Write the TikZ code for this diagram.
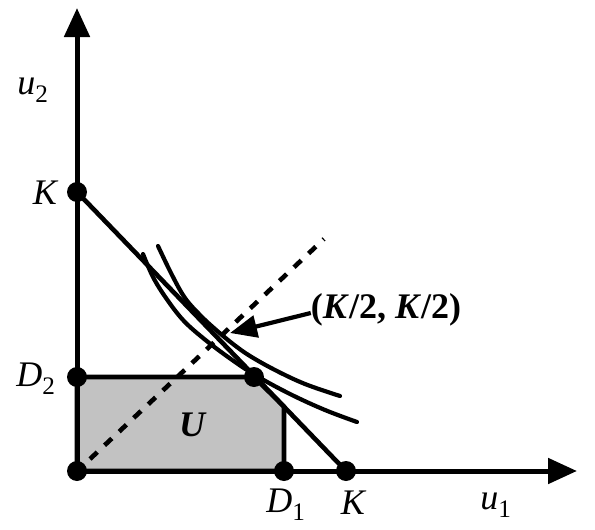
\documentclass[tikz,border=0pt]{standalone}
\usepackage{fontspec}
\setmainfont{Liberation Serif}
\usetikzlibrary{arrows.meta}
\begin{document}
\begin{tikzpicture}[x=1pt,y=-1pt,
  thick line/.style={line width=4.6pt},
  dot/.style={circle,fill=black,inner sep=0pt,minimum size=20pt},
  axis/.style={line width=5pt,-{Triangle[length=29pt,width=25pt]}},
  lbl/.style={font=\fontsize{36}{40}\selectfont\itshape,inner sep=0pt},
  icurve/.style={line width=4.2pt,line cap=round},
  ptr/.style={line width=4.2pt,-{Triangle[length=27pt,width=22pt]}},
  region/.style={fill=black!24,draw=black,line width=4.6pt,line join=round},
  diag/.style={line width=4.6pt,dash pattern=on 10pt off 10pt},
]
\useasboundingbox (0,0) rectangle (595,530);
% key points
\coordinate (ytip) at (77,8);
\coordinate (xtip) at (577,471);
\coordinate (cham) at (284,406.5);
\coordinate (d0) at (90,459);
\coordinate (d1) at (324,239);
\coordinate (aim) at (230,333);
% shaded region
\path[region] (77,377) -- (254,377) -- (cham) -- (284,471) -- (77,471) -- cycle;
% dashed diagonal
\draw[diag] (d0) -- (d1);
% dots (as nodes)
\node[dot] (O) at (77,471) {};
\node[dot] (Ky) at (77,192) {};
\node[dot] (D2) at (77,377) {};
\node[dot] (D1) at (284,471) {};
\node[dot] (Kx) at (346,471) {};
\node[dot] (P) at (254,377) {};
% budget line
\draw[thick line] (Ky.center) -- (Kx.center);
% indifference curves
\draw[icurve] plot[smooth,tension=0.6] coordinates {(158,246) (172,275) (185,298) (200,315) (215,329) (233,344) (250,356) (275,370) (305,384) (340,396)};
\draw[icurve] plot[smooth,tension=0.6] coordinates {(143,254) (153,277) (166,298) (183,320) (203,338) (228,357) (255,375) (290,394) (325,410) (357,422)};
% axes
\draw[axis] (O.center) -- (ytip);
\draw[axis] (O.center) -- (xtip);
% labels
\node[lbl] (u2) at (33,90) {u\textsubscript{\upshape 2}};
\node[lbl] (u1) at (496,505) {u\textsubscript{\upshape 1}};
\node[lbl] (lKy) at (45,193) {K};
\node[lbl] (lD2) at (36,379) {D\textsubscript{\upshape 2}};
\node[lbl] (lD1) at (286,505) {D\textsubscript{\upshape 1}};
\node[lbl] (lKx) at (353,503) {K};
\node[lbl,font=\fontsize{36}{40}\selectfont\bfseries\itshape] (lU) at (192,425) {U};
\node[lbl,font=\fontsize{36}{40}\selectfont\bfseries] (mid) at (386,310) {(\textit{K}/2, \textit{K}/2)};
\draw[ptr] (mid.west) ++(0,3) -- (aim);
\end{tikzpicture}
\end{document}
